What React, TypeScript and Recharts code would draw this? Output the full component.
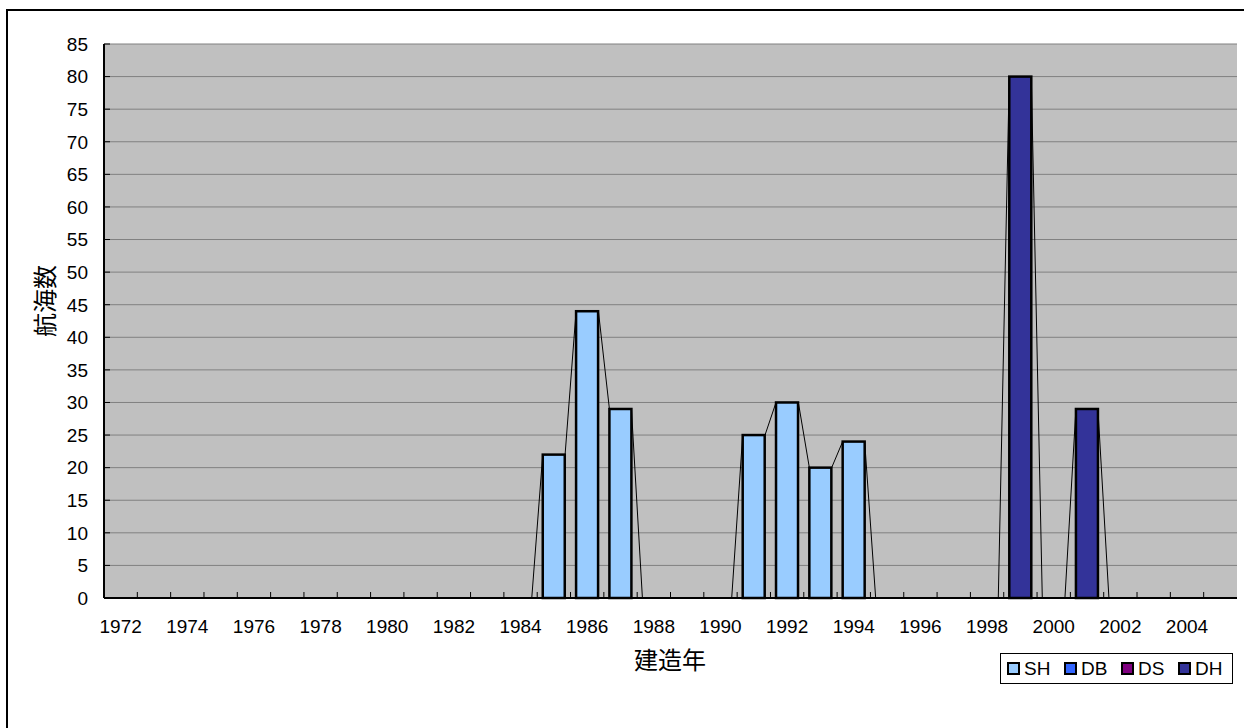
import React from 'react';
import { BarChart, Bar, XAxis, YAxis, CartesianGrid } from 'recharts';

const years = [
  '1972', '1973', '1974', '1975', '1976', '1977', '1978', '1979', '1980', '1981',
  '1982', '1983', '1984', '1985', '1986', '1987', '1988', '1989', '1990', '1991',
  '1992', '1993', '1994', '1995', '1996', '1997', '1998', '1999', '2000', '2001',
  '2002', '2003', '2004', '2005',
];
const shValues = [
  0, 0, 0, 0, 0, 0, 0, 0, 0, 0,
  0, 0, 0, 22, 44, 29, 0, 0, 0, 25,
  30, 20, 24, 0, 0, 0, 0, 0, 0, 0,
  0, 0, 0, 0,
];
const dbValues = [
  0, 0, 0, 0, 0, 0, 0, 0, 0, 0,
  0, 0, 0, 0, 0, 0, 0, 0, 0, 0,
  0, 0, 0, 0, 0, 0, 0, 0, 0, 0,
  0, 0, 0, 0,
];
const dsValues = [
  0, 0, 0, 0, 0, 0, 0, 0, 0, 0,
  0, 0, 0, 0, 0, 0, 0, 0, 0, 0,
  0, 0, 0, 0, 0, 0, 0, 0, 0, 0,
  0, 0, 0, 0,
];
const dhValues = [
  0, 0, 0, 0, 0, 0, 0, 0, 0, 0,
  0, 0, 0, 0, 0, 0, 0, 0, 0, 0,
  0, 0, 0, 0, 0, 0, 0, 80, 0, 29,
  0, 0, 0, 0,
];
const yTicks = [0, 5, 10, 15, 20, 25, 30, 35, 40, 45, 50, 55, 60, 65, 70, 75, 80, 85];
const seriesNames = ['SH', 'DB', 'DS', 'DH'];
const seriesColors = ['#99CCFF', '#3366FF', '#800080', '#333399'];
const xTitle = '建造年';
const yTitle = '航海数';

const seriesValues = [shValues, dbValues, dsValues, dhValues];
const data = years.map((year, i) => {
  const row: any = { year };
  seriesNames.forEach((n, s) => { row[n] = seriesValues[s][i]; });
  return row;
});
const cum = seriesValues.map((_, s) =>
  years.map((__, i) => seriesValues.slice(0, s + 1).reduce((a, arr) => a + arr[i], 0))
);

const FONT = '"Liberation Sans", Arial, sans-serif';
const CJK = '"Noto Sans CJK JP", "Noto Sans CJK SC", sans-serif';

function makeShape(s: number) {
  return (props: any) => {
    const { x, y, width, height, index } = props;
    const v = seriesValues[s][index];
    if (!v || !(height > 0)) return <g />;
    const px = height / v;
    const zero = y + height + (cum[s][index] - v) * px;
    const toY = (val: number) => zero - val * px;
    const gap = width / 2;
    const lines: any[] = [];
    if (index > 0) {
      lines.push(
        <line key="l" x1={x - gap} y1={toY(cum[s][index - 1])} x2={x} y2={y} stroke="#000" strokeWidth={1} />
      );
    }
    if (index < years.length - 1 && !seriesValues[s][index + 1]) {
      lines.push(
        <line key="r" x1={x + width} y1={y} x2={x + width + gap} y2={toY(cum[s][index + 1])} stroke="#000" strokeWidth={1} />
      );
    }
    return (
      <g>
        {lines}
        <rect x={x} y={y} width={width} height={height} fill={seriesColors[s]} stroke="#000" strokeWidth={2.5} />
      </g>
    );
  };
}

const XTick = (props: any) => {
  const { x, y, payload } = props;
  const idx = payload?.index ?? props.index ?? 0;
  const half = payload?.offset ?? 16.66;
  return (
    <g>
      {idx > 0 && <line x1={x - half} x2={x - half} y1={y} y2={y - 6} stroke="#000" strokeWidth={1} />}
      {idx % 2 === 0 && (
        <text x={x} y={y + 34.5} textAnchor="middle" fontSize={19} fontFamily={FONT} fill="#000">
          {payload.value}
        </text>
      )}
    </g>
  );
};

const YTick = (props: any) => {
  const { x, y, payload } = props;
  return (
    <g>
      <line x1={x} x2={x + 6} y1={y} y2={y} stroke="#000" strokeWidth={1} />
      <text x={x - 16} y={y} dy="0.36em" textAnchor="end" fontSize={19} fontFamily={FONT} fill="#000">
        {payload.value}
      </text>
    </g>
  );
};

export default function App() {
  return (
    <div style={{ position: 'absolute', left: 0, top: 0, width: 1244, height: 728, overflow: 'hidden', background: '#fff' }}>
      <div style={{ position: 'absolute', left: 6, top: 9, width: 1300, height: 800, border: '2px solid #000', boxSizing: 'border-box' }} />
      <div style={{ position: 'absolute', left: 0, top: 0 }}>
        <BarChart
          width={1244}
          height={728}
          data={data}
          margin={{ top: 44, right: 7, bottom: 100, left: 44 }}
          barCategoryGap="16.667%"
        >
          <CartesianGrid vertical={false} stroke="#808080" strokeWidth={1} fill="#C0C0C0" fillOpacity={1} />
          <XAxis
            dataKey="year"
            height={30}
            interval={0}
            tickSize={0}
            tickMargin={0}
            tickLine={false}
            axisLine={{ stroke: '#000', strokeWidth: 2 }}
            tick={<XTick />}
          />
          <YAxis
            width={60}
            domain={[0, 85]}
            ticks={yTicks}
            interval={0}
            tickSize={0}
            tickMargin={0}
            tickLine={false}
            axisLine={{ stroke: '#000', strokeWidth: 2 }}
            tick={<YTick />}
          />
          <YAxis
            yAxisId="right"
            orientation="right"
            width={0}
            domain={[0, 85]}
            tick={false}
            tickLine={false}
            axisLine={{ stroke: '#808080', strokeWidth: 2 }}
          />
          {seriesNames.map((n, s) => (
            <Bar key={n} dataKey={n} stackId="a" isAnimationActive={false} shape={makeShape(s)} />
          ))}
        </BarChart>
      </div>
      <div
        style={{
          position: 'absolute', left: 44, top: 301, transform: 'translate(-50%, -50%) rotate(-90deg)',
          fontFamily: CJK, fontSize: 24, color: '#000', whiteSpace: 'nowrap', lineHeight: 1,
        }}
      >
        {yTitle}
      </div>
      <div
        style={{
          position: 'absolute', left: 670, top: 659, transform: 'translate(-50%, -50%)',
          fontFamily: CJK, fontSize: 24, color: '#000', whiteSpace: 'nowrap', lineHeight: 1,
        }}
      >
        {xTitle}
      </div>
      <div
        style={{
          position: 'absolute', left: 1000, top: 653, width: 233, height: 31,
          border: '1px solid #000', boxSizing: 'border-box', background: '#fff',
        }}
      >
        {seriesNames.map((n, s) => (
          <div key={n} style={{ position: 'absolute', left: 6 + s * 57, top: 0, height: 29, display: 'flex', alignItems: 'center' }}>
            <div style={{ width: 13, height: 13, border: '2px solid #000', boxSizing: 'border-box', background: seriesColors[s] }} />
            <span style={{ marginLeft: 4, fontFamily: FONT, fontSize: 19, color: '#000', lineHeight: 1 }}>{n}</span>
          </div>
        ))}
      </div>
    </div>
  );
}
